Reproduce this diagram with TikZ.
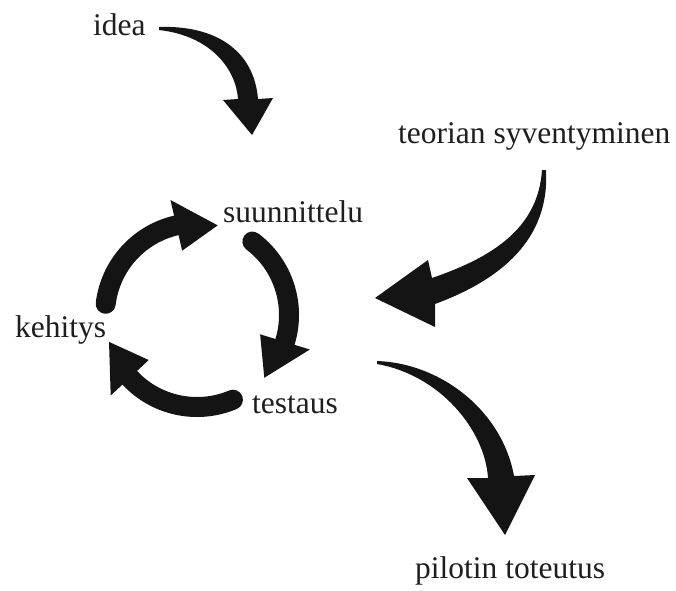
\documentclass[tikz,border=0pt]{standalone}
\usepackage{fontspec}
\setmainfont{Liberation Serif}
\usetikzlibrary{calc}
\definecolor{ink}{HTML}{141414}
\definecolor{txt}{HTML}{1E1E1E}
\tikzset{
  lbl/.style={inner sep=0pt, anchor=base west, text=txt, font=\fontsize{31.5}{37}\selectfont},
  cyc/.style={line width=20pt, line cap=round, draw=ink},
  head/.style={fill=ink},
  taper/.style={fill=ink}
}
\begin{document}
\begin{tikzpicture}[x=1pt,y=1pt]
\useasboundingbox (0,0) rectangle (676,-590);
% labels
\node[lbl] (idea) at (93,-35) {idea};
\node[lbl] (teoria) at (398,-143) {teorian syventyminen};
\node[lbl] (suun) at (223,-222) {suunnittelu};
\node[lbl] (keh) at (15,-337) {kehitys};
\node[lbl] (test) at (252,-413) {testaus};
\node[lbl] (pilot) at (415,-578) {pilotin toteutus};
% cycle
\coordinate (c) at (197,-315);
\foreach \s in {173,53,-67} {
  \pgfmathsetmacro{\e}{\s-70}
  \pgfmathsetmacro{\t}{\s-96}
  \draw[cyc] ($(c)+(\s:92)$) arc[start angle=\s, end angle=\e, radius=92];
  \fill[head] ($(c)+(\e:118)$) -- ($(c)+(\t:92)$) -- ($(c)+(\e:66)$) -- cycle;
}
% idea arrow
\coordinate (i1) at (159,-27);
\coordinate (i2) at (252,-135);
\fill[taper] (i1) .. controls (215,-25) and (254,-50) .. (258,-99)
  -- (273,-98) -- (i2) -- (223,-100) -- (238,-99)
  .. controls (236,-70) and (212,-36) .. (159,-30) -- cycle;
% teorian arrow
\coordinate (t1) at (546,-170);
\coordinate (t2) at (375,-298);
\fill[taper] (t1) .. controls (550,-240) and (500,-280) .. (435,-304)
  -- (435,-327) -- (t2) -- (428,-260) -- (432,-278)
  .. controls (490,-258) and (538,-230) .. (542,-170) -- cycle;
% pilotin arrow
\coordinate (p1) at (377,-361);
\coordinate (p2) at (505,-535);
\fill[taper] (p1) .. controls (440,-363) and (502,-410) .. (514,-476)
  -- (535,-475) -- (p2) -- (467,-478) -- (488,-478)
  .. controls (485,-430) and (440,-375) .. (377,-364) -- cycle;
\end{tikzpicture}
\end{document}
